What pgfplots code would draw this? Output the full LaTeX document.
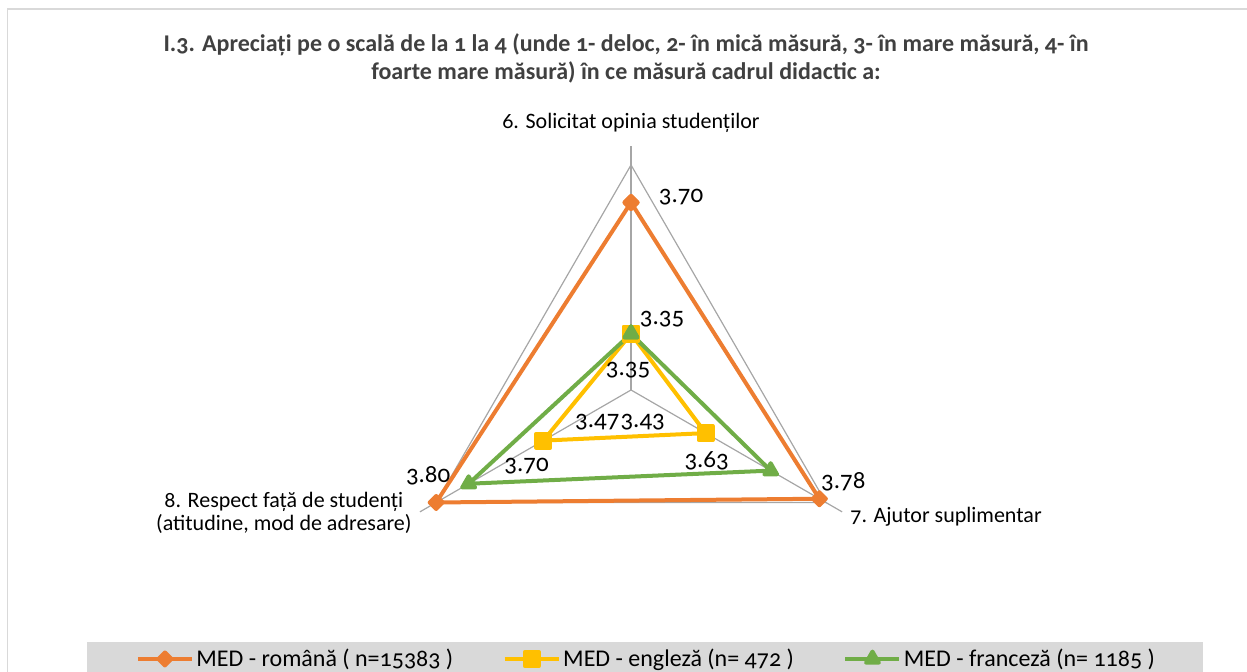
\documentclass[border=0pt]{standalone}
\usepackage{fontspec}
\setmainfont{Carlito}[Numbers=OldStyle]
\usepackage{pgfplots}
\pgfplotsset{compat=1.18}
\usepackage{pgfplotstable}

\definecolor{cRo}{HTML}{ED7D31}
\definecolor{cEn}{HTML}{FFC000}
\definecolor{cFr}{HTML}{70AD47}
\definecolor{gridgray}{HTML}{A6A6A6}
\definecolor{framegray}{HTML}{D9D9D9}
\definecolor{titlegray}{HTML}{404040}

% a = spoke angle, v = mean score, dx/dy = label offset (px, y down)
\pgfplotstableread{
a   v     dx   dy
90  3.70  50   -5
330 3.78  24  -17
210 3.80  -8  -27
90  3.70  50   -5
}\romana
\pgfplotstableread{
a   v     dx   dy
90  3.35  31  -15
330 3.43 -63  -11
210 3.47  54  -18
90  3.35  31  -15
}\engleza
\pgfplotstableread{
a   v     dx   dy
90  3.35  -3   36
330 3.63 -64  -10
210 3.70  58  -18
90  3.35  -3   36
}\franceza

\pgfplotsset{
  /pgfplots/table/radar/.style={
    x expr={(\thisrow{v}-3.2)*cos(\thisrow{a})},
    y expr={(\thisrow{v}-3.2)*sin(\thisrow{a})}},
  gridline/.style={forget plot, gridgray, line width=0.6pt, mark=none},
  serie/.style={line width=2pt, line join=round, mark options={solid}},
  labels/.style={forget plot, draw=none, mark=none,
    skip coords between index={3}{4},
    point meta=\thisrow{v},
    visualization depends on={\thisrow{dx} \as \dx},
    visualization depends on={\thisrow{dy} \as \dy},
    nodes near coords={\pgfmathprintnumber[fixed,fixed zerofill,precision=2,assume math mode=true]{\pgfplotspointmeta}},
    every node near coord/.append style={anchor=center, text=black,
      font=\fontsize{12.5}{14}\selectfont,
      xshift={\dx*0.5pt}, yshift={-\dy*0.5pt}}},
}

\begin{document}
\begin{tikzpicture}
\useasboundingbox (0,0) rectangle (623.5pt,336pt);
\draw[framegray, line width=0.75pt] (3.75pt,0) -- (3.75pt,331.5pt) -- (623.5pt,331.5pt);
\fill[framegray] (43.5pt,0) rectangle (601.5pt,15pt);
\begin{axis}[
  at={(0,0)}, anchor=south west,
  x=187.5pt, y=187.5pt,
  xmin=-1.6827, xmax=1.6427, ymin=-0.752, ymax=1.04,
  hide axis, clip=false,
  legend columns=3,
  legend cell align=left,
  legend style={draw=none, fill=none, inner sep=0pt, anchor=west,
    at={(0.10866,0.01935)},
    font=\fontsize{12}{14}\selectfont,
    nodes={inner sep=1.25pt},
    /tikz/every even column/.append style={column sep=23.5pt}},
  legend image code/.code={\draw[mark repeat=2,mark phase=2,#1]
    plot coordinates {(0pt,0pt) (13.5pt,0pt) (27pt,0pt)};},
]
% spokes and outer grid
\addplot[gridline] table[radar,row sep=\\]{a v\\ 90 3.2\\ 90 3.85\\};
\addplot[gridline] table[radar,row sep=\\]{a v\\ 330 3.2\\ 330 3.85\\};
\addplot[gridline] table[radar,row sep=\\]{a v\\ 210 3.2\\ 210 3.85\\};
\addplot[gridline] table[radar,row sep=\\]{a v\\ 90 3.8\\ 330 3.8\\ 210 3.8\\ 90 3.8\\};

\addplot[serie, color=cRo, mark=square*, mark size=2.3pt, mark options={rotate=45}] table[radar]{\romana};
\addlegendentry{MED - română ( n=15383 )}
\addplot[serie, color=cEn, mark=square*, mark size=3.5pt] table[radar]{\engleza};
\addlegendentry{MED - engleză (n= 472 )}
\addplot[serie, color=cFr, mark=triangle*, mark size=3.7pt] table[radar]{\franceza};
\addlegendentry{MED - franceză (n= 1185 )}

\addplot[labels] table[radar]{\romana};
\addplot[labels] table[radar]{\engleza};
\addplot[labels] table[radar]{\franceza};

\node[font=\bfseries\fontsize{12}{14}\selectfont, align=center, text=titlegray]
  at (axis cs:-0.0133,0.883)
  {I.3. Apreciați pe o scală de la 1 la 4 (unde 1- deloc, 2- în mică măsură, 3- în mare măsură, 4- în\\
   foarte mare măsură) în ce măsură cadrul didactic a:};
\node[font=\fontsize{11}{11.5}\selectfont, inner sep=0pt, anchor=center]
  at (axis cs:0,0.712) {6. Solicitat opinia studenților};
\node[font=\fontsize{11}{11.5}\selectfont, inner sep=0pt, anchor=west]
  at (axis cs:0.584,-0.339) {7. Ajutor suplimentar};
\node[font=\fontsize{11}{11.5}\selectfont, inner sep=0pt, anchor=east, align=center]
  at (axis cs:-0.584,-0.328) {8. Respect față de studenți\\(atitudine, mod de adresare)};
\end{axis}
\end{tikzpicture}
\end{document}
